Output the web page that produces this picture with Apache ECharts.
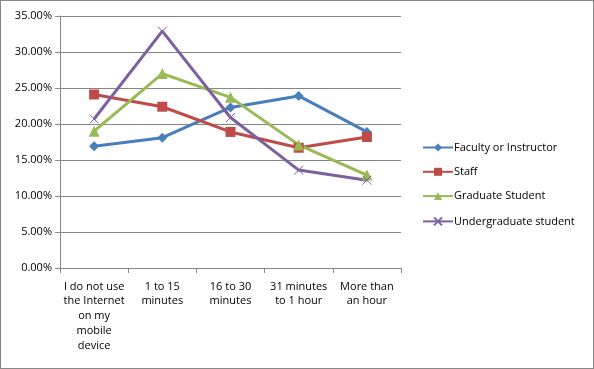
<!DOCTYPE html>
<html><head><meta charset="utf-8">
<script src="https://cdn.jsdelivr.net/npm/echarts@6/dist/echarts.min.js"></script>
<style>html,body{margin:0;padding:0;background:#fff}#c{width:594px;height:369px;box-sizing:border-box;border:1px solid #868686}</style>
</head><body><div id="c"></div>
<script>
var categories = ["I do not use\nthe Internet\non my\nmobile\ndevice", "1 to 15\nminutes", "16 to 30\nminutes", "31 minutes\nto 1 hour", "More than\nan hour"];
var faculty = [16.9, 18.1, 22.3, 23.9, 18.9];
var staff = [24.1, 22.4, 18.9, 16.7, 18.2];
var grad = [19.0, 27.0, 23.7, 17.1, 12.9];
var undergrad = [20.7, 32.9, 20.9, 13.6, 12.2];
var seriesNames = ["Faculty or Instructor", "Staff", "Graduate Student", "Undergraduate student"];

var chart = echarts.init(document.getElementById('c'));
var font = "Open Sans";
var X = 'path://M0,0L10,10M10,0L0,10';
function mk(name, data, color, symbol, size, extra) {
  return Object.assign({
    name: name, type: 'line', data: data, symbol: symbol, symbolSize: size,
    lineStyle: {color: color, width: 3}, itemStyle: {color: color},
    emphasis: {disabled: true}
  }, extra || {});
}
chart.setOption({
  animation: false,
  grid: {left: 59, top: 15, width: 341, bottom: 100, containLabel: false},
  legend: {
    orient: 'vertical', left: 416, top: 136, itemGap: 13.3, itemWidth: 30, itemHeight: 10,
    textStyle: {fontFamily: font, fontSize: 11, color: '#000', padding: [0,0,0,-4]},
    data: seriesNames
  },
  xAxis: {
    type: 'category', data: categories, boundaryGap: true,
    axisLine: {lineStyle: {color: '#868686'}},
    axisTick: {show: true, length: 5, lineStyle: {color: '#868686'}, alignWithLabel: false},
    axisLabel: {interval: 0, fontFamily: font, fontSize: 11, color: '#000', lineHeight: 14.8, margin: 11}
  },
  yAxis: {
    type: 'value', min: 0, max: 35, interval: 5,
    axisLine: {show: true, lineStyle: {color: '#868686'}},
    axisTick: {show: true, length: 5, lineStyle: {color: '#868686'}},
    splitLine: {lineStyle: {color: '#868686'}},
    axisLabel: {fontFamily: font, fontSize: 11, color: '#000', margin: 8,
      formatter: function(v){ return v.toFixed(2) + '%'; }}
  },
  series: [
    mk(seriesNames[0], faculty, '#4A7EBB', 'diamond', 10),
    mk(seriesNames[1], staff, '#BE4B48', 'rect', 10),
    mk(seriesNames[2], grad, '#98B954', 'triangle', 11),
    mk(seriesNames[3], undergrad, '#7D60A0', X, 9, {itemStyle: {color: 'none', borderColor: '#7D60A0', borderWidth: 1}})
  ]
});
</script></body></html>
